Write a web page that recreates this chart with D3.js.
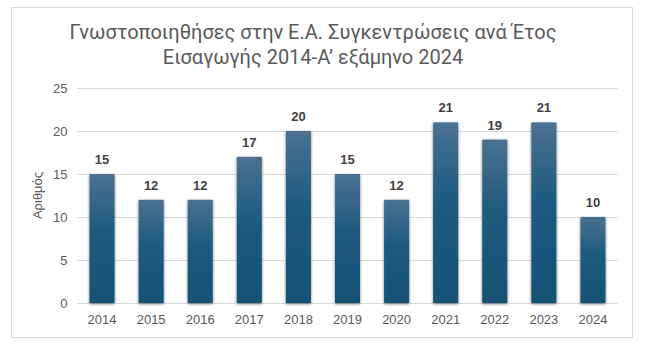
<!DOCTYPE html>
<html><head><meta charset="utf-8">
<script src="https://cdn.jsdelivr.net/npm/d3@7"></script>
<style>body{margin:0;background:#fff}svg{display:block}</style>
</head><body><svg id="c" width="648" height="352"></svg>
<script>
const categories = ["2014","2015","2016","2017","2018","2019","2020","2021","2022","2023","2024"];
const values = [15,12,12,17,20,15,12,21,19,21,10];
const yTicks = [0,5,10,15,20,25];
const titleLines = ["Γνωστοποιηθήσες στην Ε.Α. Συγκεντρώσεις ανά Έτος","Εισαγωγής 2014-Α’ εξάμηνο 2024"];
const yLabel = "Αριθμός";

const svg = d3.select("#c");
const W = 648, H = 352;
const m = {l:77.5, r:30.5, t:88, b:49};
const x = d3.scaleBand().domain(categories).range([m.l, W-m.r]).paddingInner(0.49).paddingOuter(0.245);
const y = d3.scaleLinear().domain([0,25]).range([H-m.b, m.t]);
const sans = "'Liberation Sans', Arial, Helvetica, sans-serif";

svg.append("rect").attr("x",11.5).attr("y",7.5).attr("width",621).attr("height",330)
  .attr("fill","#fff").attr("stroke","#d9d9d9");

const defs = svg.append("defs");
const g = defs.append("linearGradient").attr("id","bg").attr("x1",0).attr("y1",0).attr("x2",0).attr("y2",1);
g.append("stop").attr("offset","0%").attr("stop-color","#4a7191");
g.append("stop").attr("offset","45%").attr("stop-color","#1c5a7f");
g.append("stop").attr("offset","100%").attr("stop-color","#165275");
const f = defs.append("filter").attr("id","sh").attr("x","-30%").attr("y","-10%").attr("width","160%").attr("height","120%");
f.append("feGaussianBlur").attr("in","SourceAlpha").attr("stdDeviation",1.6).attr("result","b");
f.append("feOffset").attr("in","b").attr("dx",0).attr("dy",0.5).attr("result","o");
f.append("feComponentTransfer").attr("in","o").attr("result","o2").append("feFuncA").attr("type","linear").attr("slope",0.55);
const fm = f.append("feMerge");
fm.append("feMergeNode").attr("in","o2");
fm.append("feMergeNode").attr("in","SourceGraphic");

// grid
svg.append("g").selectAll("line").data(yTicks).join("line")
  .attr("x1",m.l).attr("x2",W-m.r)
  .attr("y1",d=>Math.round(y(d))+0.5).attr("y2",d=>Math.round(y(d))+0.5)
  .attr("stroke","#d9d9d9").attr("stroke-width",1);

// y axis labels
const yAxis = d3.axisLeft(y).tickValues(yTicks).tickSize(0).tickPadding(10);
const ya = svg.append("g").attr("transform",`translate(${m.l},0)`).call(yAxis);
ya.select(".domain").remove();
ya.selectAll("text").style("font-family",sans).style("font-size","13px").attr("fill","#595959");

// x axis labels
const xAxis = d3.axisBottom(x).tickSize(0).tickPadding(12);
const xa = svg.append("g").attr("transform",`translate(0,${H-m.b})`).call(xAxis);
xa.select(".domain").remove();
xa.selectAll("text").style("font-family",sans).style("font-size","13px").attr("fill","#595959");

// bars
svg.append("g").selectAll("rect").data(values).join("rect")
  .attr("x",(d,i)=>x(categories[i])).attr("width",x.bandwidth())
  .attr("y",d=>y(d)).attr("height",d=>y(0)-y(d))
  .attr("fill","url(#bg)").attr("filter","url(#sh)");

// value labels
svg.append("g").selectAll("text").data(values).join("text")
  .attr("x",(d,i)=>x(categories[i])+x.bandwidth()/2).attr("y",d=>y(d)-10)
  .attr("text-anchor","middle").style("font-family",sans)
  .style("font-size","13px").style("font-weight","bold").attr("fill","#404040").text(d=>d);

// title
svg.append("g").selectAll("text").data(titleLines).join("text")
  .attr("x",313).attr("y",(d,i)=>39+i*25).attr("text-anchor","middle")
  .style("font-family","Roboto, sans-serif").style("font-size","20px")
  .attr("fill","#595959").text(d=>d);

// y label
svg.append("text").attr("transform",`translate(42,${(y(0)+y(25))/2}) rotate(-90)`)
  .attr("text-anchor","middle").style("font-family",sans)
  .style("font-size","13px").attr("fill","#595959").text(yLabel);
</script></body></html>
